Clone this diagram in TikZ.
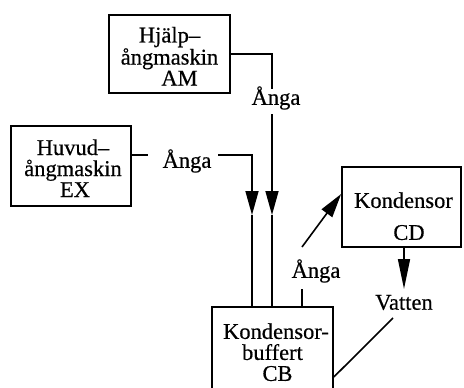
\documentclass[tikz,border=0pt]{standalone}
\usepackage{fontspec}
\setmainfont{Liberation Serif}[FakeBold=0.5]
\usetikzlibrary{arrows.meta}
\begin{document}
\begin{tikzpicture}[x=1pt,y=-1pt,
  box/.style={draw, line width=1.7pt, inner sep=0pt, align=center, font=\fontsize{22.5}{21}\selectfont},
  lbl/.style={inner sep=1pt, font=\fontsize{22.5}{21}\selectfont},
  conn/.style={line width=1.6pt},
  arr/.style={line width=1.6pt, -{Triangle[length=24pt,width=13pt]}},
  longarr/.style={line width=1.6pt, -{Triangle[length=30pt,width=12pt]}}]
\useasboundingbox (0,0) rectangle (464,388);
% boxes
\node[box, minimum width=121pt, minimum height=78pt] (AM) at (169.5,54)
  {\rule{0pt}{20pt}Hjälp–\\ångmaskin\\\hspace*{20pt}AM};
\node[box, minimum width=120pt, minimum height=80pt] (EX) at (71,166)
  {\rule{0pt}{20pt}\hspace*{4pt}Huvud–\\\hspace*{4pt}ångmaskin\\\hspace*{8pt}EX};
\node[box, minimum width=119pt, minimum height=80pt] (CD) at (401.5,207)
  {\rule{0pt}{34pt}\hspace*{4pt}Kondensor\\[11pt]\hspace*{15pt}CD};
\node[box, minimum width=121pt, minimum height=86pt] (CB) at (272.5,350)
  {\rule{0pt}{20pt}\hspace*{7pt}Kondensor-\\buffert\\\hspace*{10pt}CB};
% labels
\node[lbl] (amL) at (276,98) {Ånga};
\node[lbl] (exL) at (187,161) {Ånga};
\node[lbl] (cbL) at (316,271) {Ånga};
\node[lbl] (vat) at (404,302.5) {Vatten};
% AM steam
\coordinate (amA) at (272,89);
\coordinate (amB) at (272,114);
\coordinate (amT) at (272,215);
\draw[conn] (AM.east) -| (amA);
\draw[arr] (amB) -- (amT);
\draw[conn] (amT) -- (amT |- CB.north);
% EX steam
\coordinate (exA) at (148,155);
\coordinate (exB) at (218,155);
\coordinate (exT) at (252,215);
\draw[conn] (EX.east |- exA) -- (exA);
\draw[arr] (exB) -| (exT);
\draw[conn] (exT) -- (exT |- CB.north);
% CB -> CD steam
\coordinate (cbA) at (302,289);
\coordinate (cdS) at (302,247);
\draw[conn] (cbA |- CB.north) -- (cbA);
\draw[arr] (cdS) -- ([yshift=13pt]CD.west);
% CD -> water -> CB
\coordinate (vT) at (404,289);
\coordinate (vA) at (393,318);
\draw[longarr] ([xshift=2.5pt]CD.south) -- (vT);
\draw[conn] (vA) -- ([yshift=-27pt]CB.east);
\end{tikzpicture}
\end{document}
